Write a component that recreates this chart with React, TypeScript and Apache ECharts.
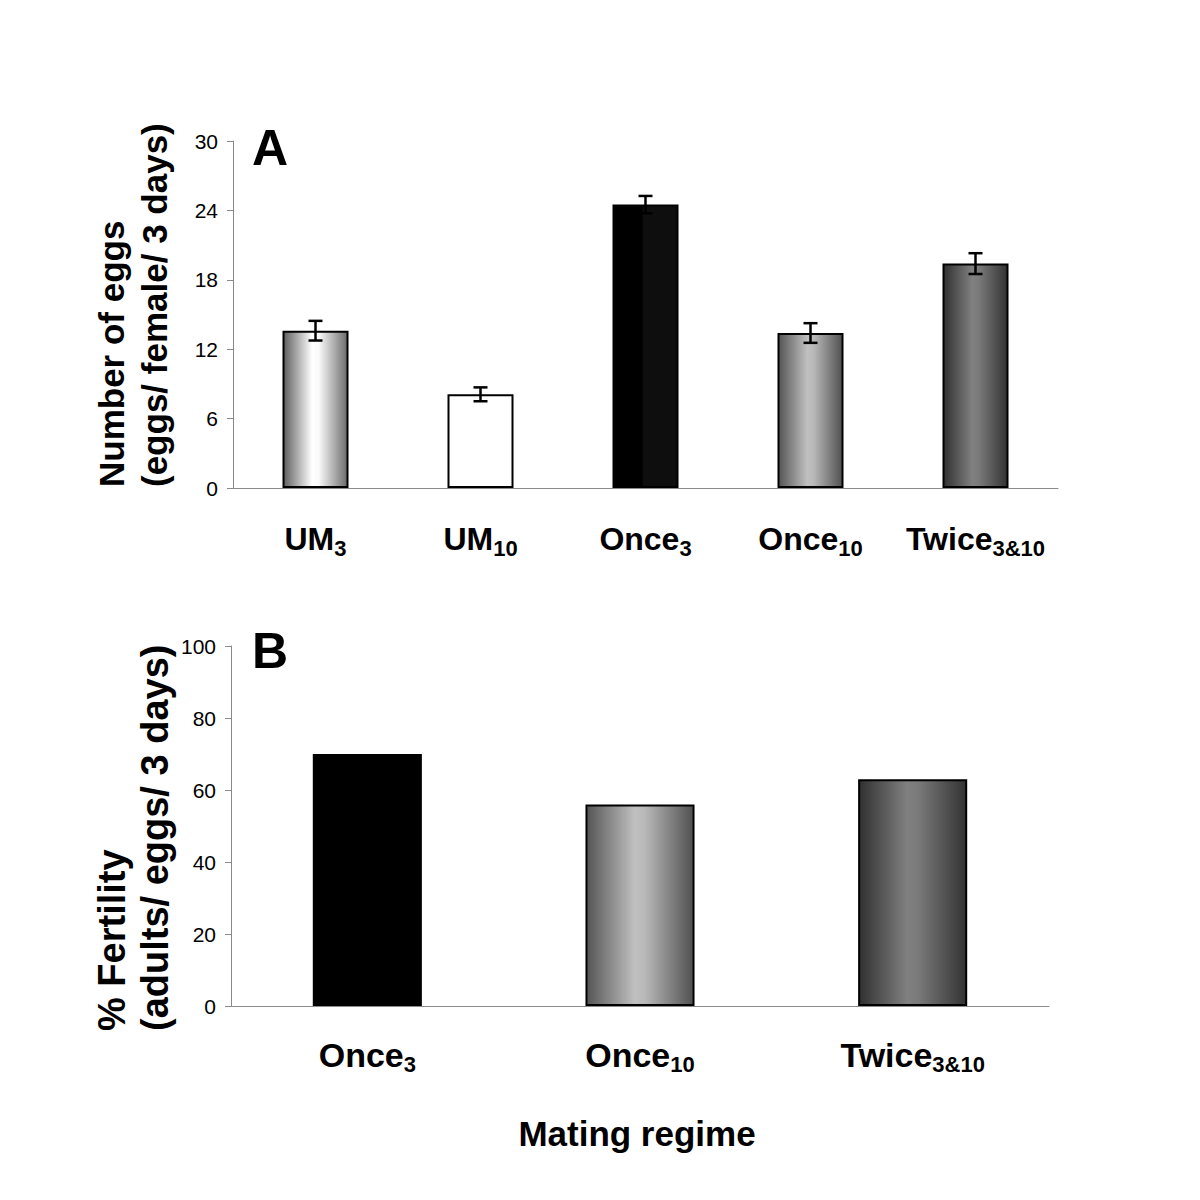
import React, { useEffect, useRef } from "react";
import * as echarts from "echarts";

// ---- Data ----
const catMainA = ["UM", "UM", "Once", "Once", "Twice"];
const catSubA = ["3", "10", "3", "10", "3&10"];
const eggMeans = [13.6, 8.1, 24.5, 13.4, 19.4];
const eggErrors = [0.85, 0.6, 0.75, 0.85, 0.9];

const catMainB = ["Once", "Once", "Twice"];
const catSubB = ["3", "10", "3&10"];
const fertility = [70, 56, 63];

const yTicksA = { min: 0, max: 30, interval: 6 };
const yTicksB = { min: 0, max: 100, interval: 20 };

const FONT = "'Liberation Sans', Arial, Helvetica, sans-serif";

const grad = (stops: [number, string][]) =>
  new echarts.graphic.LinearGradient(
    0, 0, 1, 0,
    stops.map(([offset, color]) => ({ offset, color }))
  );

const fillUM3 = () => grad([[0, "#5e5e5e"], [0.45, "#ffffff"], [0.55, "#fafafa"], [1, "#6a6a6a"]]);
const fillWhite = () => "#ffffff";
const fillBlackSplit = () => grad([[0, "#000000"], [0.45, "#000000"], [0.46, "#0e0e0e"], [1, "#0e0e0e"]]);
const fillBlack = () => "#000000";
const fillOnce10 = () => grad([[0, "#545454"], [0.45, "#c0c0c0"], [0.55, "#b8b8b8"], [1, "#505050"]]);
const fillTwice = () => grad([[0, "#303030"], [0.45, "#808080"], [0.55, "#7a7a7a"], [1, "#333333"]]);

const fillsA = [fillUM3, fillWhite, fillBlackSplit, fillOnce10, fillTwice];
const fillsB = [fillBlack, fillOnce10, fillTwice];

const catLabel = (mains: string[], subs: string[], mainSize: number) => ({
  interval: 0,
  formatter: (_v: string, i: number) => `{m|${mains[i]}}{s|${subs[i]}}`,
  rich: {
    m: { fontFamily: FONT, fontWeight: "bold", fontSize: mainSize, color: "#000", lineHeight: 40 },
    s: { fontFamily: FONT, fontWeight: "bold", fontSize: 22, color: "#000", lineHeight: 8, verticalAlign: "bottom" },
  },
});

const axisGray = "#8a8a8a";

export default function App() {
  const ref = useRef<HTMLDivElement>(null);

  useEffect(() => {
    if (!ref.current) return;
    const chart = echarts.init(ref.current, undefined, { renderer: "svg" });

    const catsA = catMainA.map((m, i) => m + catSubA[i]);
    const catsB = catMainB.map((m, i) => m + catSubB[i]);

    const yAxisCommon = {
      type: "value",
      splitLine: { show: false },
      axisLine: { show: true, lineStyle: { color: axisGray, width: 1 } },
      axisTick: { show: true, length: 6, lineStyle: { color: axisGray } },
      axisLabel: { fontFamily: FONT, fontSize: 21, color: "#000", margin: 15 },
    };

    const option: any = {
      animation: false,
      backgroundColor: "#ffffff",
      grid: [
        { left: 233, top: 141, width: 825, height: 347 },
        { left: 231, top: 646, width: 818, height: 360 },
      ],
      xAxis: [
        {
          type: "category",
          gridIndex: 0,
          data: catsA,
          axisLine: { lineStyle: { color: axisGray, width: 1 } },
          axisTick: { length: 7, lineStyle: { color: axisGray } },
          axisLabel: { ...catLabel(catMainA, catSubA, 32), margin: 31 },
        },
        {
          type: "category",
          gridIndex: 1,
          data: catsB,
          axisLine: { lineStyle: { color: axisGray, width: 1 } },
          axisTick: { length: 7, lineStyle: { color: axisGray } },
          axisLabel: { ...catLabel(catMainB, catSubB, 34), margin: 29 },
        },
      ],
      yAxis: [
        { ...yAxisCommon, gridIndex: 0, ...yTicksA },
        { ...yAxisCommon, gridIndex: 1, ...yTicksB },
      ],
      series: [
        {
          type: "bar",
          xAxisIndex: 0,
          yAxisIndex: 0,
          barWidth: "40%",
          data: eggMeans.map((v, i) => ({
            value: v,
            itemStyle: { color: fillsA[i](), borderColor: "#000", borderWidth: 2 },
          })),
        },
        {
          type: "custom",
          xAxisIndex: 0,
          yAxisIndex: 0,
          z: 5,
          data: eggMeans.map((m, i) => [i, m - eggErrors[i], m + eggErrors[i]]),
          encode: { x: 0, y: [1, 2] },
          renderItem: (_params: any, api: any) => {
            const x = api.value(0);
            const hi = api.coord([x, api.value(2)]);
            const lo = api.coord([x, api.value(1)]);
            const hw = 7;
            const st = { stroke: "#000", lineWidth: 2.5 };
            return {
              type: "group",
              children: [
                { type: "line", shape: { x1: hi[0], y1: hi[1], x2: lo[0], y2: lo[1] }, style: st },
                { type: "line", shape: { x1: hi[0] - hw, y1: hi[1], x2: hi[0] + hw, y2: hi[1] }, style: st },
                { type: "line", shape: { x1: lo[0] - hw, y1: lo[1], x2: lo[0] + hw, y2: lo[1] }, style: st },
              ],
            };
          },
        },
        {
          type: "bar",
          xAxisIndex: 1,
          yAxisIndex: 1,
          barWidth: "40%",
          data: fertility.map((v, i) => ({
            value: v,
            itemStyle: { color: fillsB[i](), borderColor: "#000", borderWidth: 2 },
          })),
        },
      ],
      graphic: [
        {
          type: "text",
          x: 252,
          y: 148,
          style: { text: "A", fontFamily: FONT, fontWeight: "bold", fontSize: 50, fill: "#000", align: "left", verticalAlign: "middle" },
        },
        {
          type: "text",
          x: 252,
          y: 651,
          style: { text: "B", fontFamily: FONT, fontWeight: "bold", fontSize: 50, fill: "#000", align: "left", verticalAlign: "middle" },
        },
        {
          type: "text",
          x: 133,
          y: 487,
          rotation: Math.PI / 2,
          style: {
            text: "Number of eggs\n(eggs/ female/ 3 days)",
            fontFamily: FONT, fontWeight: "bold", fontSize: 35, lineHeight: 43, fill: "#000",
            align: "left", verticalAlign: "middle",
          },
        },
        {
          type: "text",
          x: 133,
          y: 1031,
          rotation: Math.PI / 2,
          style: {
            text: "% Fertility\n(adults/ eggs/ 3 days)",
            fontFamily: FONT, fontWeight: "bold", fontSize: 38, lineHeight: 43, fill: "#000",
            align: "left", verticalAlign: "middle",
          },
        },
        {
          type: "text",
          x: 637,
          y: 1133,
          style: { text: "Mating regime", fontFamily: FONT, fontWeight: "bold", fontSize: 35, fill: "#000", align: "center", verticalAlign: "middle" },
        },
      ],
    };

    chart.setOption(option);
    return () => chart.dispose();
  }, []);

  return (
    <div
      ref={ref}
      style={{ position: "absolute", left: 0, top: 0, width: 1200, height: 1200, background: "#fff" }}
    />
  );
}
